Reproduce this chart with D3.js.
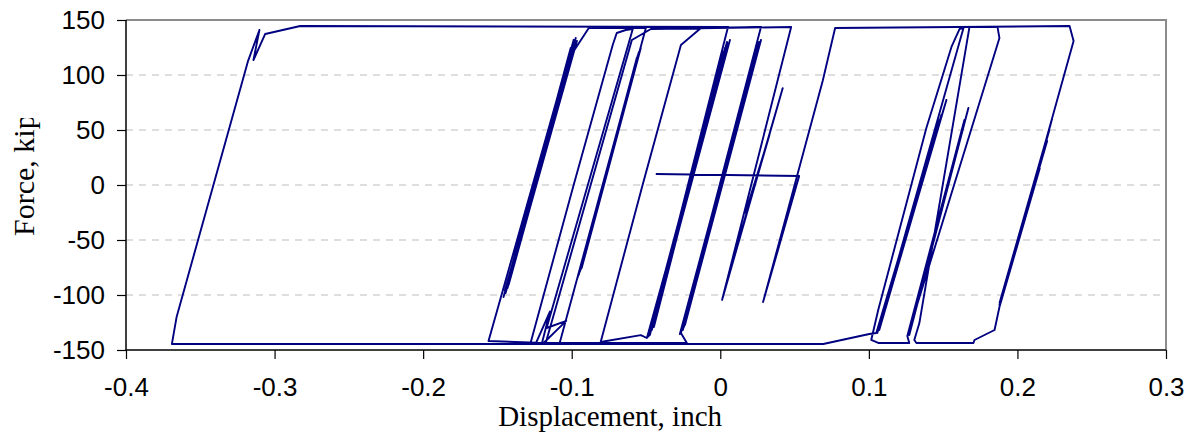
<!DOCTYPE html>
<html><head><meta charset="utf-8">
<script src="https://cdn.jsdelivr.net/npm/d3@7"></script>
<style>body{margin:0;background:#fff}</style>
</head><body>
<svg id="chart" width="1190" height="434"></svg>
<script>
const xTicks = [-0.4, -0.3, -0.2, -0.1, 0, 0.1, 0.2, 0.3];
const yTicks = [-150, -100, -50, 0, 50, 100, 150];
const xTitle = "Displacement, inch";
const yTitle = "Force, kip";

// Hysteresis record, read as turning points [displacement (inch), force (kip)], in time order
const startPath = [[-0.0434,10.0],[0.0531,8.2],[0.0288,-106.4],[0.0690,95],[0.0773,142.7]];
const rightPath = [[0.2351,144.5],[0.2378,130.9],[0.1893,-104.5],[0.2233,60],[0.1880,-107],[0.2215,50],
 [0.1895,-103],[0.2225,56],[0.1879,-109],[0.2200,40],[0.1885,-105],[0.2150,15],[0.1879,-110.9],
 [0.1846,-131.8],[0.1711,-140.9],[0.1704,-143.6],[0.1576,-143.6],
 [0.1320,-143.6],[0.1306,-140.9],[0.1340,-125.5],[0.1677,143.6],[0.1866,143.6],[0.1879,133.6],[0.1266,-134.5],
 [0.1670,70.0],[0.1272,-136.4],[0.1643,59.1],[0.1259,-137.3],[0.1272,-143.6],[0.1063,-143.6],[0.1016,-140.9],
 [0.1063,-113.6],[0.1387,51.8],[0.1556,125.5],[0.1610,141.8],[0.1637,142.7],[0.1057,-134.5],[0.1488,63.6],
 [0.1050,-134.5],[0.1522,77.3],[0.1070,-131.8],[0.1475,59.1],[0.1050,-134.5],[0.1003,-135.5],[0.0693,-144.5]];
const leftPath = [[-0.3691,-144.5],[-0.3659,-119.7],[-0.3180,112.1],[-0.3102,140.9],[-0.3142,113.6],
 [-0.3063,137.3],[-0.2827,144.5],[0.0052,143.6]];
const centerPath1 = [[-0.0474,-136.4],[0.0045,130.0],[-0.0488,-138.2],[0.0032,124.5],[-0.0461,-131.8],
 [0.0065,131.8],[-0.0481,-137.3],[0.0018,120.9],[-0.0447,-129.1],[0.0040,127],[-0.0470,-133],[0.0010,118],
 [-0.0455,-128],[0.0055,129],[-0.0494,-139.1],[-0.0535,-136.5],[-0.0805,-142.7],[-0.0523,0],[-0.0265,127.3],
 [-0.0130,142.7],[0.0274,143.6]];
const centerPath2 = [[-0.0265,-134.5],[0.0261,130.0],[-0.0252,-131.8],[0.0241,122.7],[-0.0272,-135.5],
 [0.0274,131.8],[-0.0238,-127.3],[0.0247,126.4],[-0.0258,-130],[0.0255,128],[-0.0245,-129],[0.0235,120],
 [-0.0265,-134.5],[-0.0225,-143.6],[-0.1240,-143.6],[-0.1146,-115],[-0.1200,-143.6],[-0.1277,-143.6],
 [-0.0987,0],[-0.0724,127.3],[-0.0697,138.2],
 [-0.0636,140.9],[-0.0589,141.8],[-0.1169,-130.0],[-0.1037,-123.5],[-0.1189,-143.6],[-0.1560,-141.8]];
const leftClusterPath = [[-0.0987,131.8],[-0.1445,-98.2],[-0.0993,128.2],[-0.1432,-93.6],[-0.0973,133.6],
 [-0.1459,-101.8],[-0.1007,124.5],[-0.1425,-90.9],[-0.0980,126],[-0.1415,-85],[-0.0965,131],[-0.1450,-96],
 [-0.1000,118],[-0.1440,-92],[-0.0990,122],[-0.1420,-88],[-0.0995,120.0],[-0.0885,142.7],[-0.0501,142.7]];
const midClusterPath = [[-0.0946,-79.1],[-0.0535,124.5],[-0.0933,-75.5],[-0.0548,120.9],[-0.0953,-81.8],
 [-0.0562,115.5],[-0.0940,-77],[-0.0540,122],[-0.0960,-84],[-0.0555,118],[-0.1081,-143.6],[-0.1175,-143.6],
 [-0.0595,131.8],[-0.0467,141.8]];
const endPath = [[0.0477,143.6],[0.0012,-104.5],[0.0420,88],[0.0060,-80],[0.0330,45],[0.0170,-25],[0.0250,9]];

const record = [].concat(startPath, rightPath, leftPath, centerPath1, centerPath2, leftClusterPath, midClusterPath, endPath);

const svg = d3.select("#chart");
const W = 1190, H = 434;
const plot = {left: 126, top: 20, right: 1166, bottom: 350};

const x = d3.scaleLinear().domain([-0.4, 0.3]).range([plot.left, plot.right]);
const y = d3.scaleLinear().domain([-150, 150]).range([plot.bottom, plot.top]);

svg.append("rect").attr("width", W).attr("height", H).attr("fill", "#fff");

svg.append("g").selectAll("line").data(yTicks.filter(v => v > -150 && v < 150)).join("line")
  .attr("x1", plot.left).attr("x2", plot.right)
  .attr("y1", d => y(d)).attr("y2", d => y(d))
  .attr("stroke", "#bdbdbd").attr("stroke-width", 1).attr("stroke-dasharray", "7,6");

svg.append("path")
  .attr("d", `M${plot.left},${plot.top}H${plot.right}V${plot.bottom}`)
  .attr("fill", "none").attr("stroke", "#8c8c8c").attr("stroke-width", 2);

svg.append("defs").append("clipPath").attr("id", "pc").append("rect")
  .attr("x", plot.left).attr("y", plot.top).attr("width", plot.right - plot.left).attr("height", plot.bottom - plot.top);
svg.append("path").datum(record)
  .attr("clip-path", "url(#pc)")
  .attr("d", d3.line().x(p => x(p[0])).y(p => y(p[1])))
  .attr("fill", "none").attr("stroke", "#000080").attr("stroke-width", 1.9)
  .attr("stroke-linejoin", "round");

const xAxis = d3.axisBottom(x).tickValues(xTicks).tickSize(9).tickPadding(19)
  .tickFormat(d => d === 0 ? "0" : d3.format(".1f")(d).replace("−", "-"));
const gx = svg.append("g").attr("transform", `translate(0,${plot.bottom})`).call(xAxis);
gx.select(".domain").attr("stroke", "#000").attr("stroke-width", 1.5).attr("d", `M${plot.left},0H${plot.right}`);
gx.selectAll(".tick line").attr("stroke", "#000").attr("stroke-width", 1.2);
gx.selectAll("text").attr("font-family", "Liberation Sans, Arial, sans-serif").attr("font-size", 26).attr("fill", "#000");

const yAxis = d3.axisLeft(y).tickValues(yTicks).tickSize(9).tickPadding(12);
const gy = svg.append("g").attr("transform", `translate(${plot.left},0)`).call(yAxis);
gy.select(".domain").attr("stroke", "#000").attr("stroke-width", 1.5).attr("d", `M0,${plot.top}V${plot.bottom}`);
gy.selectAll(".tick line").attr("stroke", "#000").attr("stroke-width", 1.2);
gy.selectAll("text").attr("font-family", "Liberation Sans, Arial, sans-serif").attr("font-size", 26).attr("fill", "#000")
  .text(d => String(d));

svg.append("text").attr("x", 722).attr("y", 426).attr("text-anchor", "end")
  .attr("font-family", "Liberation Serif, Times New Roman, serif").attr("font-size", 29).attr("fill", "#000")
  .text(xTitle);

svg.append("defs").append("clipPath").attr("id", "yc").append("rect")
  .attr("x", 0).attr("y", 118).attr("width", 60).attr("height", 200);
svg.append("g").attr("clip-path", "url(#yc)")
  .append("text").attr("transform", "translate(34,236) rotate(-90)").attr("text-anchor", "start")
  .attr("font-family", "Liberation Serif, Times New Roman, serif").attr("font-size", 30).attr("fill", "#000")
  .text(yTitle);
</script>
</body></html>
